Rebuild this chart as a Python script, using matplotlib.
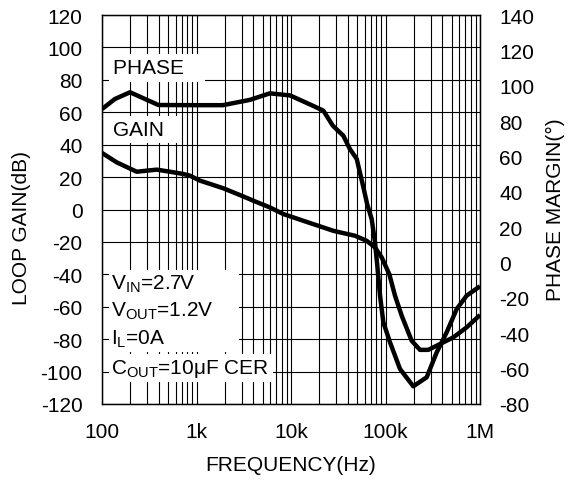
import matplotlib
matplotlib.use("Agg")
import matplotlib.pyplot as plt
from matplotlib.ticker import LogLocator, NullFormatter, FixedLocator

plt.rcParams['font.family'] = ['Liberation Sans', 'DejaVu Sans']
plt.rcParams['mathtext.fontset'] = 'custom'
plt.rcParams['mathtext.rm'] = 'Liberation Sans'
plt.rcParams['mathtext.it'] = 'Liberation Sans:italic'
plt.rcParams['axes.unicode_minus'] = False

# gain curve (left axis, dB)
gain_freq = [100, 143, 233, 379, 525, 725, 850, 1090, 1920, 3000, 4000, 5960, 8300,
             13400, 27900, 33000, 47600, 63200, 77400, 91200, 109700, 126100,
             148400, 189300, 231700, 283700, 377400, 521800, 722900, 1000000]
gain_db = [34.9, 29.1, 23.3, 24.6, 23.3, 21.9, 20.9, 17.8, 13.1, 8.5, 5.4, 1.3, -2.8,
           -6.9, -13.1, -14.1, -16.2, -19.3, -23.4, -29.6, -39.9, -53.2,
           -65.5, -81.0, -86.6, -86.6, -83.0, -78.9, -72.7, -65.1]

# phase margin curve (right axis, degrees)
phase_freq = [100, 137, 198, 395, 1000, 1900, 3670, 5980, 9800, 17000, 22000,
              27700, 35800, 42000, 49600, 57800, 64000, 71400, 77400, 81900,
              87500, 94900, 111600, 142400, 196800, 272800, 348200, 444400,
              566600, 722900, 1000000]
phase_deg = [86.8, 92.5, 96.3, 89.1, 89.0, 89.0, 92.0, 95.7, 94.5, 88.7, 85.9,
             77.4, 71.7, 64.2, 58.6, 43.5, 33.0, 24.6, 11.5, -1.8,
             -18.7, -33.8, -45.1, -60.2, -70.0, -64.9, -50.8, -39.4,
             -26.3, -18.7, -13.4]

x_ticks = [100, 1e3, 1e4, 1e5, 1e6]
x_labels = ["100", "1k", "10k", "100k", "1M"]
left_ticks = list(range(-120, 121, 20))
right_ticks = list(range(-80, 141, 20))

fig = plt.figure(figsize=(5.74, 4.85), dpi=100)
ax = fig.add_axes([102 / 574, 80 / 485, 378 / 574, 389 / 485])
ax.set_xscale('log')

ax.plot(gain_freq, gain_db, color='black', lw=3.2, solid_capstyle='butt')

ax2 = ax.twinx()
ax2.plot(phase_freq, phase_deg, color='black', lw=3.2, solid_capstyle='butt')

ax.set_xlim(100, 1e6)
ax.set_ylim(-120, 120)
ax2.set_ylim(-80, 140)

ax.xaxis.set_major_locator(FixedLocator(x_ticks))
ax.set_xticklabels(x_labels)
ax.xaxis.set_minor_locator(LogLocator(base=10, subs=range(2, 10)))
ax.xaxis.set_minor_formatter(NullFormatter())
ax.set_yticks(left_ticks)
ax2.set_yticks(right_ticks)

ax.grid(True, which='both', axis='x', color='black', lw=0.8)
ax.grid(True, which='major', axis='y', color='black', lw=0.8)
ax.tick_params(axis='both', which='both', length=0, labelsize=15)
ax.tick_params(axis='x', pad=13)
ax.tick_params(axis='y', pad=14)
ax2.tick_params(axis='y', length=0, labelsize=15, pad=14)
for sp in ax.spines.values():
    sp.set_linewidth(1.0)

ax.set_xlabel("FREQUENCY(Hz)", fontsize=15)
ax.xaxis.set_label_coords(0.5, (405 - 466) / 389)
ax.xaxis.label.set(va='center', ha='center')
ax.set_ylabel("LOOP GAIN(dB)", fontsize=15)
ax.yaxis.set_label_coords((22 - 102) / 378, (405 - 228) / 389)
ax.yaxis.label.set(va='center', ha='center')
ax2.set_ylabel("PHASE MARGIN(°)", fontsize=15)
ax2.yaxis.set_label_coords((555 - 102) / 378, (405 - 210) / 389)
ax2.yaxis.label.set(va='center', ha='center')

box = dict(facecolor='white', edgecolor='none', pad=3)
ax2.text(0.029, 0.864, "PHASE   ", transform=ax.transAxes, fontsize=15,
         va='center', ha='left', bbox=box)
ax2.text(0.029, 0.705, "GAIN  ", transform=ax.transAxes, fontsize=15,
         va='center', ha='left', bbox=box)
ax2.text(0.025, 0.240,
         "V$_{\\mathrm{IN}}$=2.7V        \nV$_{\\mathrm{OUT}}$=1.2V\nI$_{\\mathrm{L}}$=0A",
         transform=ax.transAxes, fontsize=15, va='center', ha='left',
         linespacing=1.4, bbox=dict(facecolor='white', edgecolor='none', pad=2))
ax2.text(0.025, 0.093, "C$_{\\mathrm{OUT}}$=10μF CER ", transform=ax.transAxes,
         fontsize=15, va='center', ha='left',
         bbox=dict(facecolor='white', edgecolor='none', pad=2))

fig.savefig("out.png", dpi=100)
